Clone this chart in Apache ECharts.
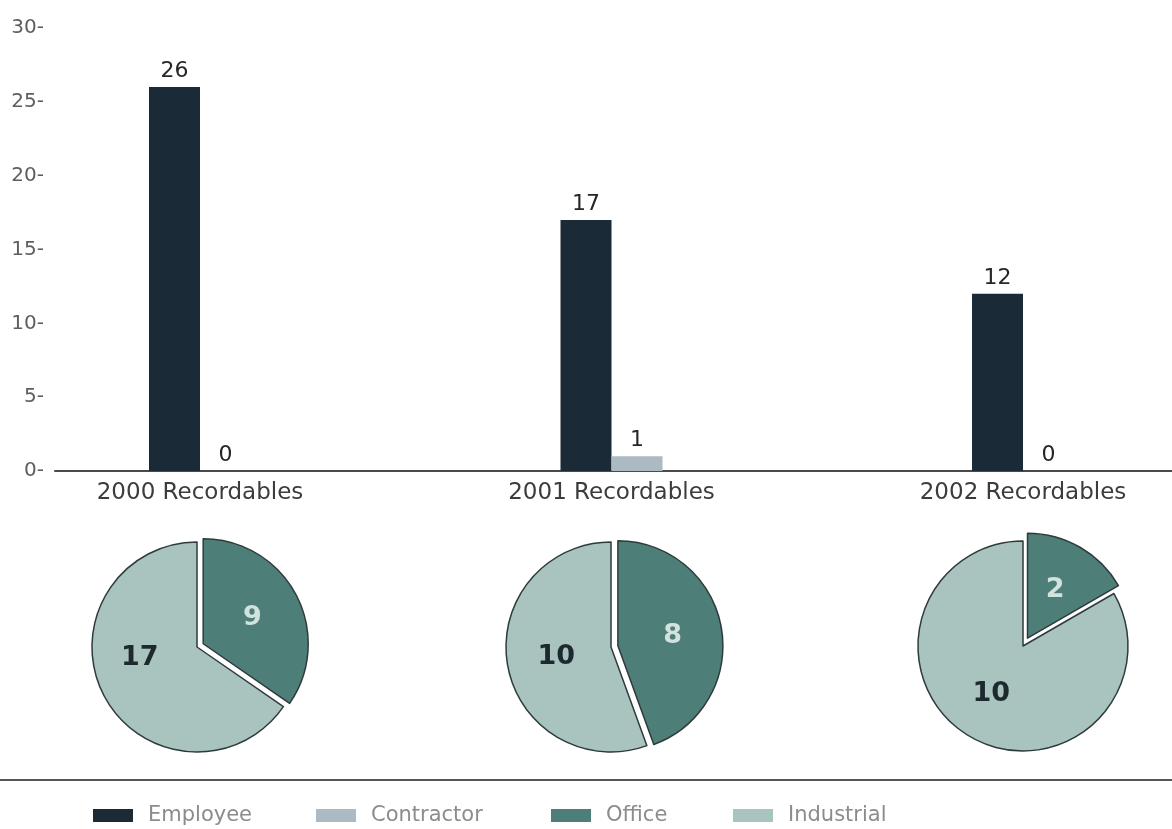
<!DOCTYPE html>
<html>
<head>
<meta charset="utf-8">
<script src="https://cdn.jsdelivr.net/npm/echarts@6/dist/echarts.min.js"></script>
<style>
  html, body { margin: 0; padding: 0; background: #ffffff; }
  #chart { width: 1172px; height: 829px; }
</style>
</head>
<body>
<div id="chart"></div>
<script>
// Recordable incidents by year
const categories = ['2000 Recordables', '2001 Recordables', '2002 Recordables'];
const employee = [26, 17, 12];
const contractor = [0, 1, 0];
// Recordables split by site type
const office = [9, 8, 2];
const industrial = [17, 10, 10];
const yTicks = [0, 5, 10, 15, 20, 25, 30];

const FONT = '"DejaVu Sans", sans-serif';
const C_EMP = '#1a2b37';
const C_CON = '#abbac3';
const C_OFF = '#4e7e78';
const C_IND = '#a9c3bf';

const chart = echarts.init(document.getElementById('chart'));

// pie layout: one pie under each year
const pieCenters = [[197, 647], [611, 647], [1023, 646]];
const pieOffsets = [7, 7, 9];
const officeLabelShift = [[0, 0], [0, 0], [8, -14]];
const industrialLabelShift = [[-8, -15], [0, 0], [-4, 0]];

const pieSeries = categories.map((c, i) => ({
  type: 'pie',
  name: c,
  center: pieCenters[i],
  radius: [0, 105],
  startAngle: 90,
  clockwise: true,
  selectedMode: 'single',
  selectedOffset: pieOffsets[i],
  avoidLabelOverlap: false,
  silent: true,
  itemStyle: { borderColor: '#2e3b3c', borderWidth: 1.5 },
  labelLine: { show: false },
  label: {
    show: true,
    position: 'inner',
    formatter: '{c}',
    fontFamily: FONT,
    fontSize: 27,
    fontWeight: 'bold'
  },
  data: [
    { name: 'Office', value: office[i], selected: true,
      itemStyle: { color: C_OFF },
      label: { color: '#d2e2de', offset: officeLabelShift[i] } },
    { name: 'Industrial', value: industrial[i],
      itemStyle: { color: C_IND },
      label: { color: '#1c2a2f', offset: industrialLabelShift[i] } }
  ]
}));

const legendBase = {
  orient: 'horizontal',
  top: 805,
  padding: 0,
  icon: 'rect',
  itemWidth: 40,
  itemHeight: 13,
  selectedMode: false,
  itemStyle: { borderWidth: 0 },
  textStyle: { color: '#8c8c8c', fontSize: 21, fontFamily: FONT, padding: [0, 0, 0, 10] }
};

chart.setOption({
  backgroundColor: '#ffffff',
  animation: false,
  textStyle: { fontFamily: FONT },
  legend: [
    Object.assign({}, legendBase, { left: 93, data: ['Employee'] }),
    Object.assign({}, legendBase, { left: 316, data: ['Contractor'] }),
    Object.assign({}, legendBase, { left: 551, data: ['Office'] }),
    Object.assign({}, legendBase, { left: 733, data: ['Industrial'] })
  ],
  grid: [
    { left: 200, width: 823, top: 28, height: 443 },
    { left: 55, right: 0, top: 28, height: 443 }
  ],
  xAxis: [
    {
      type: 'category', gridIndex: 0, data: categories, boundaryGap: false,
      axisLine: { show: false }, axisTick: { show: false }, splitLine: { show: false },
      axisLabel: { color: '#3c3c3c', fontSize: 23, margin: 11, fontFamily: FONT }
    },
    {
      type: 'value', gridIndex: 1, min: 0, max: 1,
      axisLine: { show: true, lineStyle: { color: '#4a4a4a', width: 2 } },
      axisTick: { show: false }, axisLabel: { show: false }, splitLine: { show: false }
    }
  ],
  yAxis: [
    {
      type: 'value', gridIndex: 0, min: yTicks[0], max: yTicks[yTicks.length - 1],
      show: false, splitLine: { show: false }
    },
    {
      type: 'value', gridIndex: 1, min: yTicks[0], max: yTicks[yTicks.length - 1],
      interval: yTicks[1] - yTicks[0],
      axisLine: { show: false }, axisTick: { show: false }, splitLine: { show: false },
      axisLabel: { color: '#5e5e5e', fontSize: 20, margin: 11, formatter: '{value}-', fontFamily: FONT }
    }
  ],
  series: [
    {
      type: 'bar', name: 'Employee', xAxisIndex: 0, yAxisIndex: 0,
      data: employee, barWidth: 51, barGap: '0%',
      itemStyle: { color: C_EMP },
      label: { show: true, position: 'top', color: '#262626', fontSize: 22, distance: 5, fontFamily: FONT }
    },
    {
      type: 'bar', name: 'Contractor', xAxisIndex: 0, yAxisIndex: 0,
      data: contractor, barWidth: 51,
      itemStyle: { color: C_CON },
      label: { show: true, position: 'top', color: '#262626', fontSize: 22, distance: 5, fontFamily: FONT }
    }
  ].concat(pieSeries),
  graphic: [
    {
      type: 'line', silent: true,
      shape: { x1: 0, y1: 780, x2: 1172, y2: 780 },
      style: { stroke: '#555555', lineWidth: 2 }
    }
  ]
});
</script>
</body>
</html>
